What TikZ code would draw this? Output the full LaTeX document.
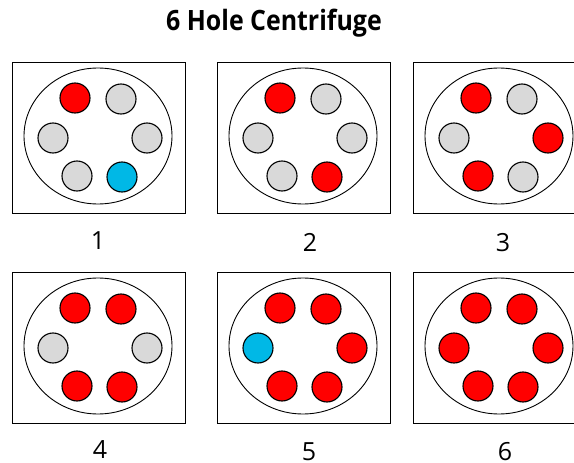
\documentclass[tikz,border=0pt]{standalone}
\usepackage{fontspec}
\setmainfont{Open Sans}
\usetikzlibrary{shapes.geometric,calc}
\definecolor{tubered}{HTML}{FF0000}
\definecolor{tubegray}{HTML}{D9D9D9}
\definecolor{tubeblue}{HTML}{00B8E6}
\tikzset{
  frame/.style={draw=black, line width=1.2pt, fill=white, rectangle, inner sep=0pt,
                minimum width=173pt, minimum height=151pt, anchor=north west},
  dish/.style={draw=black, line width=0.9pt, ellipse, inner sep=0pt,
               minimum width=148pt, minimum height=136pt},
  tube/.style={circle, draw=black, line width=1.1pt, minimum size=30pt, inner sep=0pt},
  caption/.style={anchor=base, inner sep=0pt, font=\fontsize{25}{30}\selectfont},
  heading/.style={inner sep=0pt, font=\bfseries\fontsize{28}{34}\selectfont}
}
\begin{document}
\begin{tikzpicture}[x=1pt,y=-1pt]
\useasboundingbox (0,0) rectangle (574,463);
\node[heading] (title) at (274,23) {\scalebox{0.89}[1]{6 Hole Centrifuge}};
\foreach \i/\rx/\ry/\lx/\ly/\ca/\cb/\cc/\cd/\ce/\cf in {
  1/12/62/98/249/tubered/tubegray/tubegray/tubegray/tubegray/tubeblue,
  2/217/62/310/251/tubered/tubegray/tubegray/tubegray/tubegray/tubered,
  3/413/62/503/251/tubered/tubegray/tubegray/tubered/tubered/tubegray,
  4/12/272/100/458/tubered/tubered/tubegray/tubegray/tubered/tubered,
  5/217/272/309/460/tubered/tubered/tubeblue/tubered/tubered/tubered,
  6/413/272/505/460/tubered/tubered/tubered/tubered/tubered/tubered}
{
  \node[frame] (box\i) at (\rx,\ry) {};
  \pgfmathsetmacro{\cx}{\rx+86}
  \pgfmathsetmacro{\cy}{\ry+74}
  \node[dish] (dish\i) at (\cx,\cy) {};
  \node[tube, fill=\ca] (tl\i) at ($(dish\i.center)+(-23,-38)$) {};
  \node[tube, fill=\cb] (tr\i) at ($(dish\i.center)+(23,-37)$) {};
  \node[tube, fill=\cc] (l\i)  at ($(dish\i.center)+(-45,2)$) {};
  \node[tube, fill=\cd] (r\i)  at ($(dish\i.center)+(49,2)$) {};
  \node[tube, fill=\ce] (bl\i) at ($(dish\i.center)+(-21,40)$) {};
  \node[tube, fill=\cf] (br\i) at ($(dish\i.center)+(24,41)$) {};
  \node[caption] (lab\i) at (\lx,\ly) {\i};
}
\end{tikzpicture}
\end{document}
